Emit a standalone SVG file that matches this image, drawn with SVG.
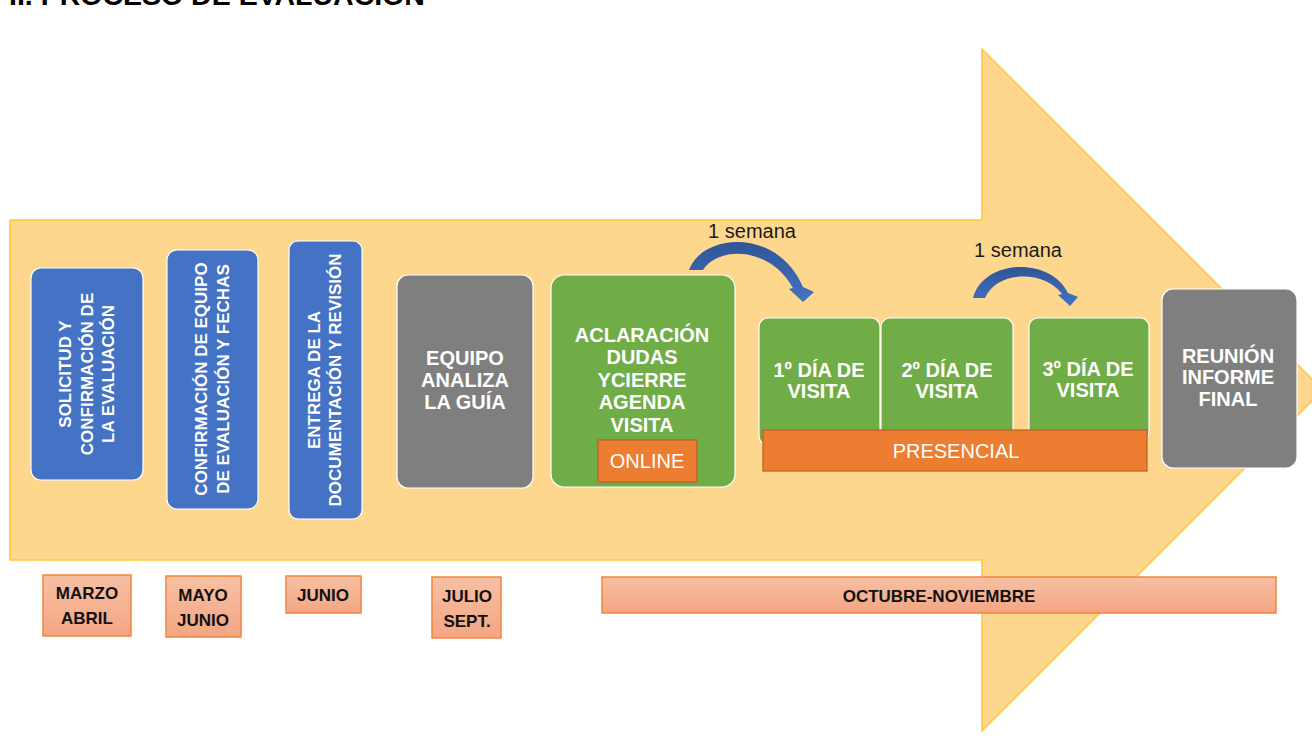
<svg xmlns="http://www.w3.org/2000/svg" width="1312" height="740" viewBox="0 0 1312 740">
<defs>
<linearGradient id="dateGrad" x1="0" y1="0" x2="0" y2="1">
<stop offset="0" stop-color="#F7C0A3"/>
<stop offset="1" stop-color="#F4A583"/>
</linearGradient>
<linearGradient id="curveGrad" x1="0" y1="0" x2="0" y2="1">
<stop offset="0" stop-color="#2F5597"/>
<stop offset="1" stop-color="#4472C4"/>
</linearGradient>
</defs>
<style>
.bold{font-family:"Liberation Sans",Arial,sans-serif;font-weight:bold;fill:#FFFFFF;text-anchor:middle}
.v{font-size:17px}
.h{font-size:20px}
.reg{font-family:"Liberation Sans",Arial,sans-serif;fill:#FFFFFF;text-anchor:middle}
.lbl{font-family:"Liberation Sans",Arial,sans-serif;font-size:20px;fill:#1A1A1A;text-anchor:middle}
.date{font-family:"Liberation Sans",Arial,sans-serif;font-weight:bold;font-size:17px;fill:#111111;text-anchor:middle}
.blue{fill:#4472C4;stroke:#FFFFFF;stroke-width:1.2}
.gray{fill:#7F7F7F;stroke:#FFFFFF;stroke-width:1.2}
.green{fill:#70AD47;stroke:#FFFFFF;stroke-width:1.2}
.orange{fill:#ED7D31;stroke:#B85F23;stroke-width:1.2}
.dbox{fill:url(#dateGrad);stroke:#F0873F;stroke-width:1.5}
.curve{fill:url(#curveGrad)}
</style>
<rect width="1312" height="740" fill="#FFFFFF"/>
<text x="9" y="5" font-family="Liberation Sans,Arial,sans-serif" font-weight="bold" font-size="28.5" fill="#000000">II. PROCESO DE EVALUACIÓN</text>

<g id="big-arrow">
<path d="M 10 220 L 982 220 L 982 49 L 1323 390 L 982 731 L 982 560 L 10 560 Z" fill="#FED78E" stroke="#FFC83A" stroke-width="1.5"/>
</g>

<g id="node-solicitud">
<rect class="blue" x="31" y="268" width="112" height="212" rx="10"/>
<g transform="translate(87,374) rotate(-90)">
<text class="bold v" x="0" y="-16">SOLICITUD Y</text>
<text class="bold v" x="0" y="6">CONFIRMACIÓN DE</text>
<text class="bold v" x="0" y="27">LA EVALUACIÓN</text>
</g>
</g>

<g id="node-confirmacion">
<rect class="blue" x="167" y="250" width="91" height="259" rx="10"/>
<g transform="translate(212,379) rotate(-90)">
<text class="bold v" x="0" y="-5">CONFIRMACIÓN DE EQUIPO</text>
<text class="bold v" x="0" y="17">DE EVALUACIÓN Y FECHAS</text>
</g>
</g>

<g id="node-entrega">
<rect class="blue" x="289" y="241" width="73" height="278" rx="9"/>
<g transform="translate(325,380) rotate(-90)">
<text class="bold v" x="0" y="-5">ENTREGA DE LA</text>
<text class="bold v" x="0" y="16">DOCUMENTACIÓN Y REVISIÓN</text>
</g>
</g>

<g id="node-equipo">
<rect class="gray" x="397" y="275" width="136" height="213" rx="11"/>
<text class="bold h" x="465" y="365">EQUIPO</text>
<text class="bold h" x="465" y="387">ANALIZA</text>
<text class="bold h" x="465" y="409">LA GUÍA</text>
</g>

<g id="node-aclaracion">
<rect class="green" x="551" y="275" width="184" height="212" rx="13"/>
<text class="bold h" x="642" y="342">ACLARACIÓN</text>
<text class="bold h" x="642" y="364">DUDAS</text>
<text class="bold h" x="642" y="387">YCIERRE</text>
<text class="bold h" x="642" y="409">AGENDA</text>
<text class="bold h" x="642" y="432">VISITA</text>
<rect class="orange" x="598" y="440" width="99" height="42"/>
<text class="reg" x="647" y="468" font-size="20">ONLINE</text>
</g>

<g id="node-dia1">
<rect class="green" x="759" y="318" width="121" height="127" rx="9"/>
<text class="bold h" x="819" y="377">1º DÍA DE</text>
<text class="bold h" x="819" y="398">VISITA</text>
</g>

<g id="node-dia2">
<rect class="green" x="881" y="318" width="132" height="127" rx="9"/>
<text class="bold h" x="947" y="377">2º DÍA DE</text>
<text class="bold h" x="947" y="398">VISITA</text>
</g>

<g id="node-dia3">
<rect class="green" x="1029" y="318" width="120" height="122" rx="9"/>
<text class="bold h" x="1088" y="376">3º DÍA DE</text>
<text class="bold h" x="1088" y="397">VISITA</text>
</g>

<g id="node-presencial">
<rect class="orange" x="763" y="430" width="384" height="41"/>
<text class="reg" x="956" y="458" font-size="20">PRESENCIAL</text>
</g>

<g id="node-reunion">
<rect class="gray" x="1162" y="289" width="135" height="179" rx="11"/>
<text class="bold h" x="1228" y="363">REUNIÓN</text>
<text class="bold h" x="1228" y="384">INFORME</text>
<text class="bold h" x="1228" y="406">FINAL</text>
</g>

<g id="connectors">
<path class="curve" d="M 689 270 C 703 232, 778 228, 803 287 L 814 292 L 803 302 L 789 289 L 793 288 C 770 246, 718 246, 703 270 Z"/>
<text class="lbl" x="752" y="238">1 semana</text>
<path class="curve" d="M 973 298 C 984 258, 1051 257, 1068 293 L 1078 297 L 1070 306 L 1058 295 L 1062 294 C 1045 270, 997 270, 985 298 Z"/>
<text class="lbl" x="1018" y="257">1 semana</text>
</g>

<g id="date-marzo">
<rect class="dbox" x="43" y="575" width="88" height="61"/>
<text class="date" x="87" y="599">MARZO</text>
<text class="date" x="87" y="624">ABRIL</text>
</g>
<g id="date-mayo">
<rect class="dbox" x="166" y="576" width="75" height="61"/>
<text class="date" x="203" y="601">MAYO</text>
<text class="date" x="203" y="626">JUNIO</text>
</g>
<g id="date-junio">
<rect class="dbox" x="286" y="576" width="75" height="37"/>
<text class="date" x="323" y="601">JUNIO</text>
</g>
<g id="date-julio">
<rect class="dbox" x="432" y="577" width="69" height="61"/>
<text class="date" x="467" y="602">JULIO</text>
<text class="date" x="467" y="627">SEPT.</text>
</g>
<g id="date-octubre">
<rect class="dbox" x="602" y="577" width="674" height="36"/>
<text class="date" x="939" y="602">OCTUBRE-NOVIEMBRE</text>
</g>
</svg>
